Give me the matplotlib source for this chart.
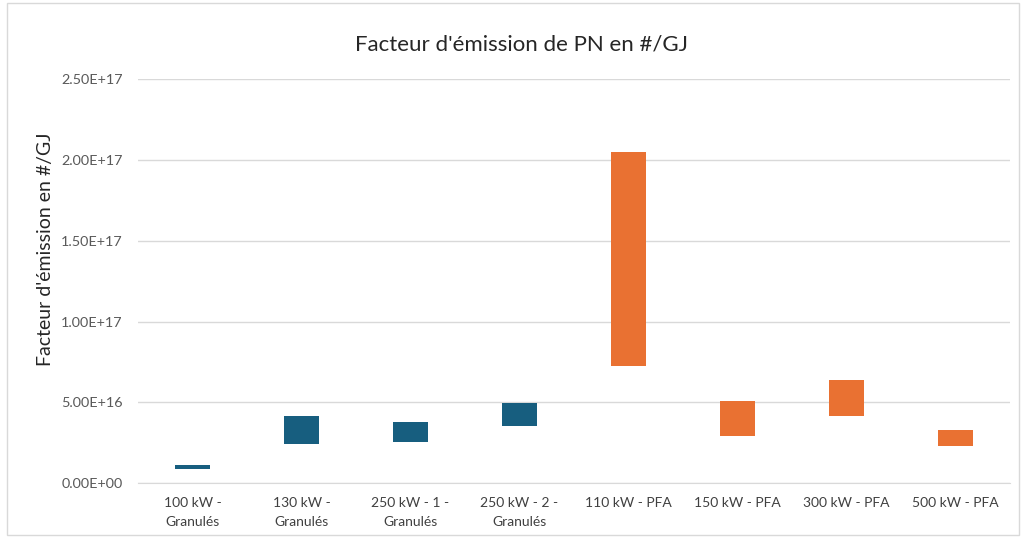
import matplotlib.pyplot as plt
from matplotlib.patches import Rectangle

plt.rcParams['font.family'] = ['Lato', 'DejaVu Sans']

# Data (min / max per installation)
categories = ["100 kW -\nGranulés", "130 kW -\nGranulés", "250 kW - 1 -\nGranulés",
              "250 kW - 2 -\nGranulés", "110 kW - PFA", "150 kW - PFA",
              "300 kW - PFA", "500 kW - PFA"]
low_values = [0.90e16, 2.44e16, 2.55e16, 3.56e16, 7.26e16, 2.92e16, 4.14e16, 2.28e16]
high_values = [1.11e16, 4.17e16, 3.80e16, 4.96e16, 2.047e17, 5.08e16, 6.42e16, 3.29e16]
bar_colors = ["#175E7F"] * 4 + ["#E97132"] * 4
y_ticks = [0, 5e16, 1e17, 1.5e17, 2e17, 2.5e17]

fig = plt.figure(figsize=(10.22, 5.38), dpi=100)
ax = fig.add_axes([0.135, 0.1017, 0.853, 0.751])

x = range(len(categories))
heights = [h - l for h, l in zip(high_values, low_values)]
ax.bar(x, heights, bottom=low_values, width=0.32, color=bar_colors, zorder=3)

ax.set_ylim(0, 2.5e17)
ax.set_xlim(-0.5, len(categories) - 0.5)
ax.set_yticks(y_ticks)
ax.set_yticklabels([f"{v:.2E}" for v in y_ticks])
ax.set_xticks(list(x))
ax.set_xticklabels(categories, linespacing=1.7)
ax.tick_params(axis='y', length=0, pad=11, labelsize=10.4, labelcolor='#595959')
ax.tick_params(axis='x', length=0, pad=10, labelsize=10, labelcolor='#404040')

ax.grid(axis='y', color='#d9d9d9', linewidth=1, zorder=0)
for side in ['top', 'right', 'left']:
    ax.spines[side].set_visible(False)
ax.spines['bottom'].set_color('#d9d9d9')

ax.set_ylabel("Facteur d'émission en #/GJ", fontsize=14, color='#262626')
ax.yaxis.set_label_coords(-0.096, 0.58)
fig.text(0.51, 0.918, "Facteur d'émission de PN en #/GJ", ha='center', va='center',
         fontsize=16, color='#262626')

# Light border round the chart area
fig.patches.append(Rectangle((0.007, 0.005), 0.99, 0.99, transform=fig.transFigure,
                             fill=False, edgecolor='#d9d9d9', linewidth=1))

fig.savefig("out.png", dpi=100)
